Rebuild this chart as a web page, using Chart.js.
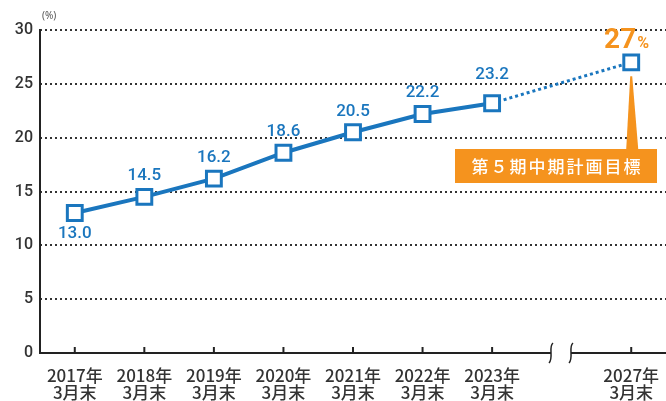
<!DOCTYPE html>
<html>
<head>
<meta charset="utf-8">
<script src="https://cdn.jsdelivr.net/npm/chart.js@4"></script>
<style>
  body { margin: 0; background: #fff; }
  #wrap { width: 666px; height: 401px; position: relative; }
</style>
</head>
<body>
<div id="wrap"><canvas id="chart"></canvas></div>
<script>
// values
const years = ['2017年', '2018年', '2019年', '2020年', '2021年', '2022年', '2023年', '', '2027年'];
const monthLabel = '3月末';
const actual = [13.0, 14.5, 16.2, 18.6, 20.5, 22.2, 23.2, null, null];
const target = [null, null, null, null, null, null, 23.2, null, 27];
const targetLabel = '27';
const calloutText = '第５期中期計画目標';

const blue = '#1a76be';
const orange = '#f5931e';
const ink = '#333';

const labels = years.map(y => y ? [y, monthLabel] : '');

const overlay = {
  id: 'overlay',
  afterDraw(chart) {
    const ctx = chart.ctx;
    const x = chart.scales.x, y = chart.scales.y;
    const area = chart.chartArea;
    ctx.save();

    // y axis line
    ctx.strokeStyle = '#222';
    ctx.lineWidth = 2;
    ctx.beginPath();
    ctx.moveTo(area.left, area.top - 1);
    ctx.lineTo(area.left, area.bottom);
    ctx.stroke();

    // x axis line with break
    const breakL = 551, breakR = 571;
    ctx.beginPath();
    ctx.moveTo(area.left - 1, area.bottom);
    ctx.lineTo(breakL, area.bottom);
    ctx.moveTo(breakR, area.bottom);
    ctx.lineTo(area.right, area.bottom);
    ctx.stroke();
    ctx.lineWidth = 1.5;
    [breakL, breakR].forEach(bx => {
      ctx.beginPath();
      ctx.moveTo(bx + 2, area.bottom - 10);
      ctx.bezierCurveTo(bx - 3, area.bottom - 6, bx + 3, area.bottom + 5, bx - 2, area.bottom + 10);
      ctx.stroke();
    });

    // tick marks
    ctx.lineWidth = 2;
    years.forEach((yr, i) => {
      if (!yr) return;
      const px = x.getPixelForValue(i);
      ctx.beginPath();
      ctx.moveTo(px, area.bottom);
      ctx.lineTo(px, area.bottom - 6);
      ctx.stroke();
    });

    // (%) unit
    ctx.fillStyle = '#555';
    ctx.font = '10px "Noto Sans"';
    ctx.textAlign = 'left';
    ctx.textBaseline = 'middle';
    ctx.fillText('(%)', 42, 16);

    // value labels
    ctx.fillStyle = blue;
    ctx.font = '500 17px Roboto';
    ctx.textAlign = 'center';
    actual.forEach((v, i) => {
      if (v === null) return;
      const px = x.getPixelForValue(i);
      const py = y.getPixelForValue(v);
      let dy = -21;
      if (i === 0) dy = 21;
      if (i === 6) dy = -28;
      ctx.fillText(v.toFixed(1), px, py + dy);
    });

    // target label
    const tx = x.getPixelForValue(8), ty = y.getPixelForValue(27);
    ctx.fillStyle = orange;
    ctx.font = 'bold 28px Roboto';
    ctx.textAlign = 'right';
    ctx.textBaseline = 'alphabetic';
    ctx.fillText(targetLabel, tx + 5, ty - 14);
    ctx.font = 'bold 16px Roboto';
    ctx.textAlign = 'left';
    ctx.fillText('%', tx + 6, ty - 14);

    // callout pointer + box
    const boxL = 455, boxR = 657, boxT = 149, boxB = 183;
    ctx.beginPath();
    ctx.moveTo(tx - 1, ty + 14);
    ctx.lineTo(tx + 1, ty + 14);
    ctx.lineTo(tx + 7, boxT);
    ctx.lineTo(tx - 5, boxT);
    ctx.closePath();
    ctx.fill();
    ctx.fillRect(boxL, boxT, boxR - boxL, boxB - boxT);
    ctx.fillStyle = '#fff';
    ctx.font = '500 17px "Noto Sans CJK JP"';
    ctx.letterSpacing = '2px';
    ctx.textAlign = 'center';
    ctx.textBaseline = 'middle';
    ctx.fillText(calloutText, (boxL + boxR) / 2 + 1, (boxT + boxB) / 2 + 1);

    ctx.restore();
  }
};

new Chart(document.getElementById('chart'), {
  type: 'line',
  data: {
    labels: labels,
    datasets: [{
      data: target,
      borderColor: blue,
      borderWidth: 3,
      borderDash: [3, 3],
      spanGaps: true,
      pointRadius: 0,
      order: 2
    }, {
      data: actual,
      borderColor: blue,
      borderWidth: 4,
      spanGaps: false,
      pointStyle: 'rect',
      pointRadius: 10.5,
      pointBorderWidth: 3,
      pointBackgroundColor: '#fff',
      pointBorderColor: blue,
      order: 1
    }, {
      data: [null, null, null, null, null, null, null, null, 27],
      borderColor: blue,
      pointStyle: 'rect',
      pointRadius: 10.5,
      pointBorderWidth: 3,
      pointBackgroundColor: '#fff',
      pointBorderColor: blue,
      showLine: false,
      order: 0
    }]
  },
  options: {
    responsive: true,
    maintainAspectRatio: false,
    animation: false,
    layout: { autoPadding: false, padding: { top: 30, right: 0, left: 0, bottom: 0 } },
    plugins: { legend: { display: false }, tooltip: { enabled: false } },
    scales: {
      x: {
        offset: true,
        grid: { display: false },
        border: { display: false },
        afterFit(scale) {
          scale.height = 48;
          scale.paddingLeft = 0;
          scale.paddingRight = 0;
        },
        ticks: {
          color: ink,
          font: { size: 17, weight: '500', family: '"Noto Sans CJK JP"', lineHeight: 1.0 },
          padding: 6,
          maxRotation: 0,
          autoSkip: false
        }
      },
      y: {
        min: 0,
        max: 30,
        afterFit(scale) { scale.width = 40; },
        border: { display: false, dash: [2, 3] },
        grid: {
          color: ctx => ctx.tick && ctx.tick.value === 0 ? 'rgba(0,0,0,0)' : '#333',
          lineWidth: 2,
          drawTicks: false
        },
        ticks: {
          stepSize: 5,
          color: ink,
          padding: 7,
          font: { size: 16, weight: '500', family: 'Roboto' }
        }
      }
    }
  },
  plugins: [overlay]
});
</script>
</body>
</html>
